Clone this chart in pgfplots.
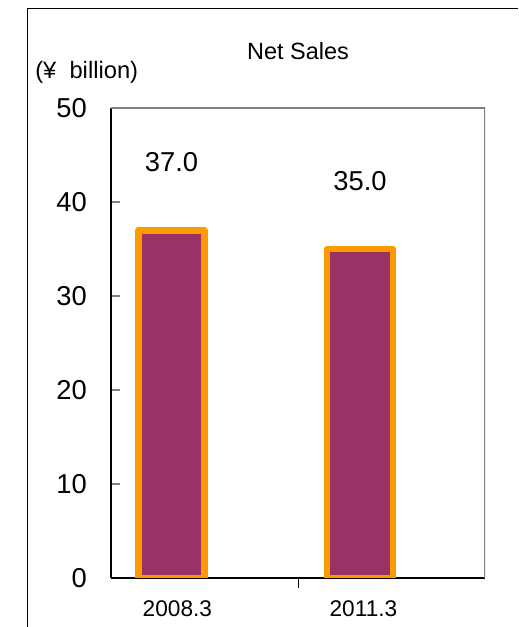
\documentclass[border=0pt]{standalone}
\usepackage{fontspec}
\setmainfont{Liberation Sans}
\usepackage{pgfplots}
\pgfplotsset{compat=1.18}
\definecolor{barfill}{HTML}{993366}
\definecolor{barline}{HTML}{FF9900}
\definecolor{frameg}{HTML}{808080}
\begin{document}
\begin{tikzpicture}
\useasboundingbox (0,0) rectangle (388.5pt,470.25pt);
\draw[line width=0.75pt] (20.25pt,0) -- (20.25pt,463.5pt) -- (388.5pt,463.5pt);
\begin{axis}[
  at={(83.25pt,36.75pt)}, anchor=south west,
  scale only axis, width=280.5pt, height=352.5pt,
  /pgf/number format/assume math mode=true,
  xmin=0, xmax=2, ymin=0, ymax=50,
  ytick={0,10,...,50},
  xtick={0.355,1.35}, xticklabels={2008.3,2011.3},
  major x tick style={draw=none},
  extra x ticks={1}, extra x tick labels={},
  extra x tick style={major tick length=7.5pt, major x tick style={draw=black, line width=0.6pt}},
  ytick pos=left, xtick pos=bottom,
  tick align=inside,
  major tick length=6.75pt,
  y tick style={frameg, line width=1pt},
  axis lines*=left,
  axis line style={black, line width=0.8pt, -},
  yticklabel style={font=\fontsize{20.5}{24}\selectfont, inner sep=0pt, xshift=-18pt},
  xticklabel style={font=\fontsize{17}{20}\selectfont, inner sep=0pt, anchor=north, yshift=-10pt},
  title={Net Sales},
  title style={font=\fontsize{17.6}{21}\selectfont, at={(0.5,1)}, anchor=center, yshift=36.75pt},
  ylabel={(¥\ \ billion)},
  every axis y label/.style={at={(axis description cs:0,1)}, anchor=west, inner sep=0pt, xshift=-57pt, yshift=27pt, font=\fontsize{17.8}{21}\selectfont},
  ybar, bar width=49.7pt,
  point meta=explicit symbolic,
  nodes near coords,
  nodes near coords style={font=\fontsize{20.5}{24}\selectfont, anchor=center, yshift=51pt},
]
\addplot[fill=barfill, draw=barline, line width=5pt, line join=round] coordinates {(0.3235,37.0) [37.0] (1.3316,35.0) [35.0]};
\draw[frameg, line width=1.2pt] (rel axis cs:0,1) -- (rel axis cs:1,1) -- (rel axis cs:1,0);
\end{axis}
\end{tikzpicture}
\end{document}
